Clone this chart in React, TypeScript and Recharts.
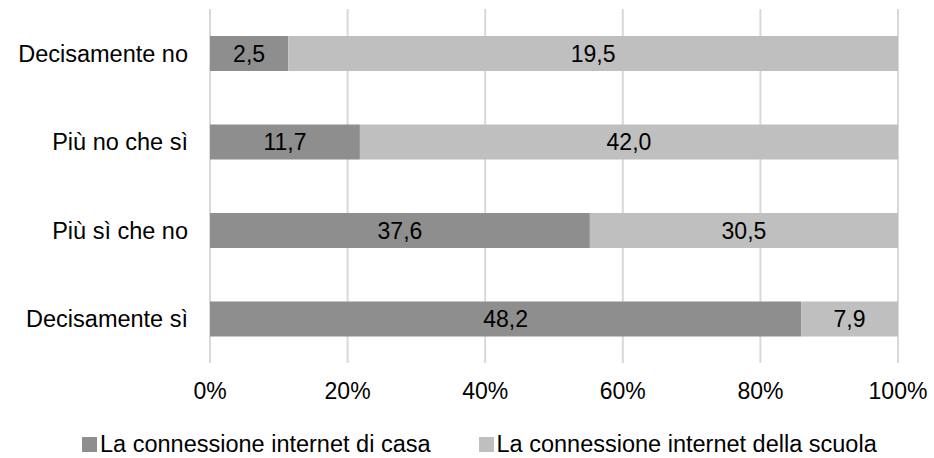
import { BarChart, Bar, XAxis, YAxis, CartesianGrid, Legend, LabelList } from "recharts";

const CATEGORIES = ["Decisamente no", "Più no che sì", "Più sì che no", "Decisamente sì"];
const CASA = [2.5, 11.7, 37.6, 48.2];
const SCUOLA = [19.5, 42.0, 30.5, 7.9];
const X_TICKS = [0, 20, 40, 60, 80, 100];

const SERIES = [
  { key: "casaPct", raw: "casa", name: "La connessione internet di casa", color: "#8e8e8e" },
  { key: "scuolaPct", raw: "scuola", name: "La connessione internet della scuola", color: "#bfbfbf" },
];

const FONT = "'Liberation Sans', Arial, sans-serif";

// 100% stacked: bar lengths are shares, labels keep the raw values
const data = CATEGORIES.map((cat, i) => {
  const total = CASA[i] + SCUOLA[i];
  return {
    cat,
    casa: CASA[i],
    scuola: SCUOLA[i],
    casaPct: (CASA[i] / total) * 100,
    scuolaPct: (SCUOLA[i] / total) * 100,
  };
});

const fmt = (v: any) => Number(v).toFixed(1).replace(".", ",");

function LegendContent() {
  return (
    <div style={{ display: "flex", paddingLeft: 82, fontFamily: FONT, fontSize: 23.5, color: "#000" }}>
      {SERIES.map((s, i) => (
        <div key={s.key} style={{ display: "flex", alignItems: "center", marginRight: i === 0 ? 48 : 0 }}>
          <span style={{ width: 15, height: 15, background: s.color, marginRight: 3, display: "inline-block" }} />
          <span>{s.name}</span>
        </div>
      ))}
    </div>
  );
}

export default function App() {
  return (
    <div style={{ position: "absolute", left: 0, top: 0, background: "#fff" }}>
      <BarChart
        width={934}
        height={458}
        data={data}
        layout="vertical"
        margin={{ top: 9, right: 36, bottom: 55, left: 0 }}
      >
        <CartesianGrid horizontal={false} stroke="#d9d9d9" strokeWidth={2} />
        <XAxis
          type="number"
          domain={[0, 100]}
          allowDataOverflow
          ticks={X_TICKS}
          interval={0}
          tickFormatter={(v) => `${v}%`}
          axisLine={false}
          tickLine={false}
          tickSize={0}
          tickMargin={20}
          height={40}
          tick={{ fill: "#000", fontSize: 23, fontFamily: FONT }}
        />
        <YAxis
          type="category"
          dataKey="cat"
          width={210}
          axisLine={false}
          tickLine={false}
          tickSize={0}
          tickMargin={22}
          tick={{ fill: "#000", fontSize: 23.5, fontFamily: FONT }}
        />
        <Legend
          layout="horizontal"
          verticalAlign="middle"
          align="center"
          content={<LegendContent />}
          wrapperStyle={{ top: 431, left: 0, width: 934 }}
        />
        {SERIES.map((s) => (
          <Bar key={s.key} dataKey={s.key} name={s.name} stackId="a" fill={s.color} barSize={35} isAnimationActive={false}>
            <LabelList
              dataKey={s.raw}
              position="center"
              formatter={fmt}
              style={{ fill: "#000", fontSize: 23, fontFamily: FONT }}
            />
          </Bar>
        ))}
      </BarChart>
    </div>
  );
}
